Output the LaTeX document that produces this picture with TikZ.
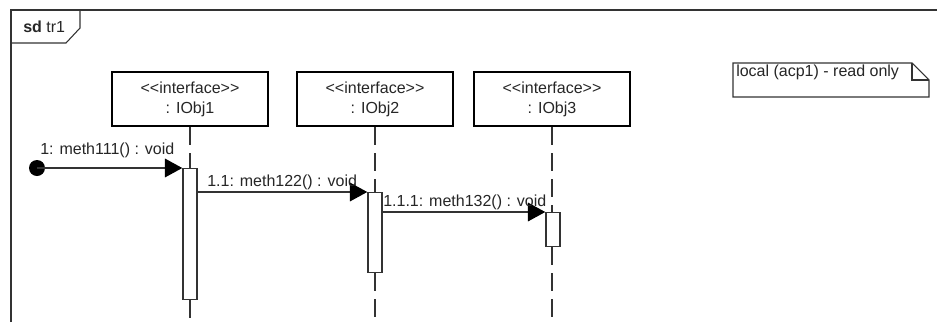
\documentclass[tikz,border=0pt]{standalone}
\usepackage{fontspec}
\setmainfont{Liberation Sans}
\usetikzlibrary{arrows.meta}
\begin{document}
\begin{tikzpicture}[x=0.75pt,y=-0.75pt,
  every node/.style={font=\fontsize{12}{15}\selectfont, text=black!85},
  headbox/.style={draw=black, line width=1.5pt, fill=white, minimum width=117pt,
    minimum height=40.5pt, align=center, inner sep=0pt},
  actbox/.style={draw=black!80, line width=1.1pt, fill=white, minimum width=10.5pt,
    inner sep=0pt, anchor=north},
  lifeline/.style={draw=black!80, line width=0.9pt, dash pattern=on 13.5pt off 6pt},
  msg/.style={draw=black!80, line width=0.9pt,
    -{Triangle[length=13pt,width=14pt,fill=black,color=black]}},
  thin/.style={draw=black!80, line width=0.8pt},
  lbl/.style={anchor=west, inner sep=0pt},
]
\useasboundingbox (0,0) rectangle (937,322);
\fill[white] (0,0) rectangle (937,322);
\coordinate (bottom) at (0,322);

% frame and its tag
\draw[thin] (11,322) -- (11,10) -- (937,10);
\draw[thin] (11,43) -- (66,43) -- (80,28) -- (80,10);
\node[lbl] (tag) at (23,27) {\textbf{sd} tr1};

% lifeline heads
\node[headbox] (h1) at (190,99) {<\kern0pt<interface>\kern0pt>\\: IObj1};
\node[headbox] (h2) at (375,99) {<\kern0pt<interface>\kern0pt>\\: IObj2};
\node[headbox] (h3) at (552,99) {<\kern0pt<interface>\kern0pt>\\: IObj3};

% activations
\node[actbox, minimum height=98.25pt] (a1) at (190,168) {};
\node[actbox, minimum height=60pt] (a2) at (375,192) {};
\node[actbox, minimum height=25.5pt] (a3) at (553,212) {};

% lifelines, interrupted by the activations
\draw[lifeline] (h1.south) -- (h1.south |- a1.north);
\draw[lifeline] (h1.south |- a1.south) -- (h1.south |- bottom);
\draw[lifeline] (h2.south) -- (h2.south |- a2.north);
\draw[lifeline] (h2.south |- a2.south) -- (h2.south |- bottom);
\draw[lifeline] (h3.south) -- (h3.south |- a3.north);
\draw[lifeline] (h3.south |- a3.south) -- (h3.south |- bottom);

% messages
\node[circle, fill=black, minimum size=12pt, inner sep=0pt] (start) at (37,168) {};
\draw[msg] (start.center) -- (a1.north west);
\draw[msg] (a1.east |- a2.north) -- (a2.north west);
\draw[msg] (a2.east |- a3.north) -- (a3.north west);

\node[lbl] (m1) at (40,150) {1: meth111() : void};
\node[lbl] (m2) at (207,182) {1.1: meth122() : void};
\node[lbl] (m3) at (383,202) {1.1.1: meth132() : void};

% note with folded corner
\draw[thin] (733,63) -- (912,63) -- (929,80) -- (929,97) -- (733,97) -- cycle;
\draw[thin] (912,63) -- (912,80) -- (929,80);
\node[lbl] (note) at (736,72) {local (acp1) - read only};
\end{tikzpicture}
\end{document}
